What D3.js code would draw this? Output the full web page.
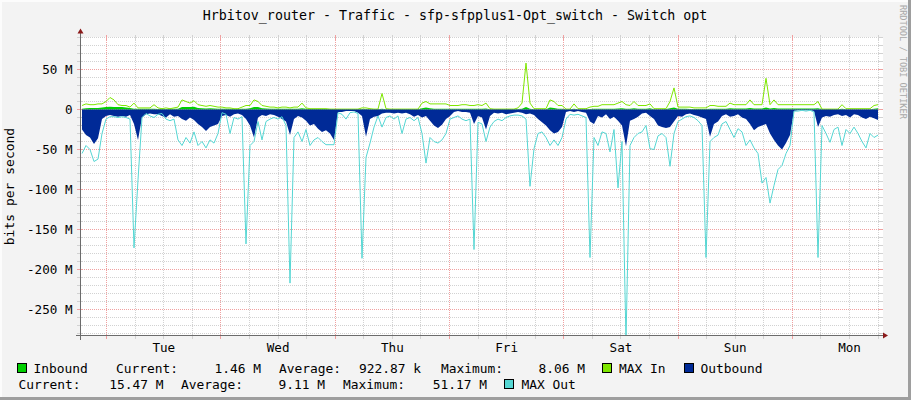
<!DOCTYPE html>
<html><head><meta charset="utf-8">
<script src="https://cdn.jsdelivr.net/npm/d3@7/dist/d3.min.js"></script>
<style>
body{margin:0;background:#f3f3f3;}
svg{display:block;}
text{font-family:"DejaVu Sans Mono",monospace;fill:#000;}
</style>
</head><body>
<svg id="c" width="911" height="400"></svg>
<script>
const title = "Hrbitov_router - Traffic - sfp-sfpplus1-Opt_switch - Switch opt";
const yAxisTitle = "bits per second";
const watermark = "RRDTOOL / TOBI OETIKER";
const dayLabels = ["Tue","Wed","Thu","Fri","Sat","Sun","Mon"];
const yTickValues = [50, 0, -50, -100, -150, -200, -250];
const yTickLabels = ["50 M","0","-50 M","-100 M","-150 M","-200 M","-250 M"];

// 200 samples over one week (M bits/s)
const inbound = [
 1,1.5,2,2,2,2.5,3,3.5,3,3,
 3,2.5,2,1,1,0.8,0.8,1,0.8,0.6,
 0.8,0.6,0.8,0.8,1,3,3,3,3.5,2,
 1.5,1.2,1.5,1.2,1,1,0.8,0.8,0.5,0.5,
 0.8,1,1.5,3,3,1.5,1.2,1,1,0.8,
 1,1,0.8,1,1,1.5,0.8,0.5,0.5,0.5,
 0.5,0.5,0.3,0.3,0.3,0.3,0.3,0.3,0.3,0.3,
 0.5,0.5,0.4,0.3,0.3,1,0.3,0.3,0.3,0.3,
 0.3,0.3,0.3,0.3,0.3,1.5,2.5,1.5,1,1,
 1,1,0.8,0.8,0.8,1,1,0.8,0.8,1,
 0.8,1.2,0.3,0.3,0.3,0.3,0.3,0.3,0.3,0.5,
 1,3,1,0.3,0.3,0.3,0.3,2.5,2,1,
 1,0.3,0.3,1,0.3,0.3,0.3,0.5,0.8,0.8,
 1,1,1,1,1.2,1.5,1,1,1.5,1,
 1,1,1.5,0.3,0.3,0.3,0.5,1.5,2.5,0.8,
 0.8,0.8,0.6,0.5,0.5,0.5,0.5,1,1,0.8,
 0.8,0.8,1.5,1.2,1.2,1.2,1.2,2,1.2,1.2,
 1.2,2.5,1.2,2,1.2,1.2,1.2,1.2,1.2,1.2,
 1.2,1.2,1.2,1.2,1.5,0.3,0.3,0.3,0.3,0.3,
 1,0.4,0.4,0.3,0.3,0.3,0.3,0.3,1,1.5];
const maxIn = [
 5,7,6,6,7,7,10,15,12,6,
 5,5,3,8,2,2,2,2,6,2,
 1,2,1,2,3,12,10,8,11,6,
 5,4,5,4,3,3,2,2,1,1,
 3,5,5,12,10,5,4,3,3,2,
 3,3,2,3,3,8,2,1,1,1,
 1,1,0.5,0.5,0.5,0.5,0.5,0.5,0.5,0.5,
 2,2,1,0.5,0.5,20,1,0.5,0.5,0.5,
 0.5,0.5,0.5,0.5,0.5,8,10,7,7,7,
 7,7,5,5,5,6,6,5,5,6,
 5,8,1,0.5,0.5,0.5,0.5,0.5,0.5,2,
 8,58,8,1,1,1,1,12,10,5,
 5,0.5,0.5,7,1,1,1,3,4,4,
 6,6,6,6,8,10,6,5,10,5,
 5,5,7,1,1,1,1,10,27,3,
 3,3,3,2,2,2,2,5,5,4,
 4,4,8,6,6,6,6,12,6,6,
 6,39,6,12,6,6,6,6,6,6,
 6,6,6,6,10,0.5,0.5,0.5,0.5,0.5,
 6,1,1,1,1,1,1,1,5,6];
const outbound = [
 25,32,35,43,36,12,8,7,8,9,
 8,9,7,18,38,10,6,5,6,6,
 8,10,6,9,8,12,14,10,13,18,
 22,27,22,20,18,8,7,9,6,5,
 7,12,20,35,10,7,8,6,7,9,
 12,15,32,12,8,10,14,20,18,24,
 28,26,30,38,3,3,2,2,2,4,
 8,34,12,9,8,5,4,4,5,4,
 5,4,6,9,7,10,8,14,20,23,
 19,12,8,3,2,3,3,4,18,8,
 10,25,8,4,5,4,6,5,4,3,
 4,6,5,7,12,16,20,26,30,28,
 22,3,2,3,2,3,4,15,18,8,
 10,6,12,9,14,20,46,14,12,9,
 5,4,8,12,20,22,23,22,15,8,
 9,6,5,7,8,10,12,34,18,15,
 8,6,9,8,6,10,12,18,26,22,
 20,18,30,38,45,50,42,32,2,1,
 1,1,1,2,22,10,8,9,7,6,
 8,7,10,6,7,10,12,9,11,13];
const maxOut = [
 55,45,50,65,62,30,12,9,9,10,
 9,10,12,173,88,10,5,8,10,6,
 5,12,14,12,38,45,35,42,28,45,
 40,48,38,42,30,4,6,30,10,12,
 9,168,45,40,15,38,15,12,10,12,
 9,20,217,35,28,40,25,45,38,35,
 40,44,44,44,4,6,12,4,3,5,
 186,60,42,22,8,22,10,8,12,8,
 30,12,10,14,10,30,67,35,40,42,
 38,30,12,10,8,12,14,12,175,16,
 18,40,22,15,12,14,10,8,7,7,
 8,12,96,49,30,28,35,45,38,45,
 35,12,6,7,6,8,10,185,35,45,
 28,30,53,25,98,40,290,45,35,30,
 28,20,49,50,33,30,35,71,30,15,
 12,9,8,10,14,20,185,40,35,32,
 18,15,25,35,24,28,45,38,48,55,
 92,85,117,95,75,70,55,45,2,2,
 1,2,1,3,185,20,30,41,25,22,
 45,25,30,22,30,40,48,30,35,32];

const legendNames = ["Inbound","MAX In","Outbound","MAX Out"];
const statLabels = ["Current:","Average:","Maximum:"];
const inboundStats = ["1.46 M","922.87 k","8.06 M"];
const outboundStats = ["15.47 M","9.11 M","51.17 M"];

const C = {inb:"#00cf00", maxIn:"#7ee600", outb:"#002a97", maxOut:"#55d6d3"};

const svg = d3.select("#c");
const W = 911, H = 400;
const X0 = 80, X1 = 880, Y0 = 335.5, Y1 = 37.5;

const start = Date.UTC(2024,0,1,18,24);
const end = start + 7*24*3600e3;
const step = (end-start)/maxOut.length;
const times = maxOut.map((_,i)=> new Date(start + (i+0.5)*step));

const x = d3.scaleUtc().domain([start,end]).range([X0,X1]);
const y = d3.scaleLinear().domain([-282.5,90]).range([Y0,Y1]);

// background & border
svg.append("rect").attr("width",W).attr("height",H).attr("fill","#f3f3f3");
svg.append("rect").attr("x",0).attr("y",0).attr("width",W).attr("height",2).attr("fill","#fcfcfc");
svg.append("rect").attr("x",0).attr("y",0).attr("width",2).attr("height",H).attr("fill","#fcfcfc");
svg.append("rect").attr("x",W-3).attr("y",0).attr("width",3).attr("height",H).attr("fill","#9e9e9e");
svg.append("rect").attr("x",0).attr("y",H-3).attr("width",W).attr("height",3).attr("fill","#9e9e9e");

svg.append("rect").attr("x",X0).attr("y",Y1-0.5).attr("width",X1-X0+3).attr("height",Y0-Y1+0.5).attr("fill","#fff");

const gGrid = svg.append("g").attr("shape-rendering","crispEdges");
const minorCol = "#d2d2d2", majorCol = "#f0a0a0";
// horizontal grid
d3.range(-280, 91, 10).forEach(v=>{
  const yy = Math.round(y(v)-0.5)+0.5;
  const major = v % 50 === 0;
  const col = major ? majorCol : minorCol;
  gGrid.append("line").attr("x1",X0).attr("x2",X1+3).attr("y1",yy).attr("y2",yy)
    .attr("stroke",col).attr("stroke-dasharray","1,1");
  gGrid.append("line").attr("x1",X0-3).attr("x2",X0+2).attr("y1",yy).attr("y2",yy).attr("stroke",col);
  gGrid.append("line").attr("x1",X1-1).attr("x2",X1+3).attr("y1",yy).attr("y2",yy).attr("stroke",col);
});
// vertical grid
x.ticks(d3.utcHour.every(6)).forEach(t=>{
  const xx = Math.round(x(t)-0.5)+0.5;
  const major = t.getUTCHours() === 0;
  const col = major ? majorCol : minorCol;
  gGrid.append("line").attr("x1",xx).attr("x2",xx).attr("y1",Y1).attr("y2",Y0)
    .attr("stroke",col).attr("stroke-dasharray","1,1");
  gGrid.append("line").attr("x1",xx).attr("x2",xx).attr("y1",Y0-2).attr("y2",Y0+3).attr("stroke",col);
  gGrid.append("line").attr("x1",xx).attr("x2",xx).attr("y1",Y1-3).attr("y2",Y1+2).attr("stroke",col);
});

// clip
svg.append("clipPath").attr("id","pc").append("rect")
  .attr("x",X0).attr("y",Y1-1).attr("width",X1-X0).attr("height",Y0-Y1+1);
const gData = svg.append("g").attr("clip-path","url(#pc)");

const areaPos = d3.area().x((d,i)=>x(times[i])).y0(y(0)).y1(d=>y(d));
const areaNeg = d3.area().x((d,i)=>x(times[i])).y0(y(0)).y1(d=>y(-d));
const linePos = d3.line().x((d,i)=>x(times[i])).y(d=>y(d));
const lineNeg = d3.line().x((d,i)=>x(times[i])).y(d=>y(-d));

gData.append("path").attr("d",areaPos(inbound)).attr("fill",C.inb);
gData.append("path").attr("d",linePos(maxIn)).attr("fill","none").attr("stroke",C.maxIn).attr("stroke-width",1);
gData.append("path").attr("d",areaNeg(outbound)).attr("fill",C.outb);
gData.append("path").attr("d",lineNeg(maxOut)).attr("fill","none").attr("stroke",C.maxOut).attr("stroke-width",1);

// axes
const axisCol = "#6b6b6b", arrowCol = "#8b1a1a";
svg.append("line").attr("x1",X0-4).attr("x2",X1+4).attr("y1",Y0).attr("y2",Y0)
  .attr("stroke",axisCol).attr("shape-rendering","crispEdges");
svg.append("line").attr("x1",X0+0.5).attr("x2",X0+0.5).attr("y1",Y0+4.5).attr("y2",Y1-5)
  .attr("stroke",axisCol).attr("shape-rendering","crispEdges");
svg.append("path").attr("d",`M${X1+3},${Y0-3} L${X1+8},${Y0} L${X1+3},${Y0+3} Z`).attr("fill",arrowCol);
svg.append("path").attr("d",`M${X0+0.5-3},${Y1-4} L${X0+0.5},${Y1-9} L${X0+0.5+3},${Y1-4} Z`).attr("fill",arrowCol);

// y tick labels
yTickValues.forEach((v,i)=>{
  svg.append("text").attr("x",72.5).attr("y",y(v)+4.5).attr("text-anchor","end")
    .attr("font-size","12.6px").text(yTickLabels[i]);
});
// x tick labels at noon of each day
dayLabels.forEach((d,i)=>{
  const t = new Date(Date.UTC(2024,0,2+i,12));
  svg.append("text").attr("x",x(t)).attr("y",351.5).attr("text-anchor","middle")
    .attr("font-size","12.6px").text(d);
});

// titles
svg.append("text").attr("x",455).attr("y",20).attr("text-anchor","middle")
  .attr("font-size","13.3px").text(title);
svg.append("text").attr("transform",`translate(14,${(Y0+Y1)/2}) rotate(-90)`).attr("text-anchor","middle")
  .attr("font-size","13px").text(yAxisTitle);
svg.append("text").attr("transform","translate(900,5) rotate(90)")
  .attr("font-size","8.6px").style("fill","#a8a8a8").text(watermark);

// legend
const fs = "12.9px";
function box(xx,yy,col){
  svg.append("rect").attr("x",xx+0.5).attr("y",yy+0.5).attr("width",9).attr("height",9)
    .attr("fill",col).attr("stroke","#000").attr("stroke-width",1);
}
function txt(xx,yy,s,anchor){
  svg.append("text").attr("x",xx).attr("y",yy).attr("font-size",fs)
    .attr("text-anchor",anchor||"start").text(s);
}
const r1 = 373, r2 = 389;
box(17,363,C.inb); txt(33.5,r1,legendNames[0]);
txt(116,r1,statLabels[0]); txt(261,r1,inboundStats[0],"end");
txt(279,r1,statLabels[1]); txt(421,r1,inboundStats[1],"end");
txt(441,r1,statLabels[2]); txt(585,r1,inboundStats[2],"end");
box(602,363,C.maxIn); txt(619,r1,legendNames[1]);
box(684,363,C.outb); txt(700.5,r1,legendNames[2]);
txt(18.5,r2,statLabels[0]); txt(163.5,r2,outboundStats[0],"end");
txt(181,r2,statLabels[1]); txt(325,r2,outboundStats[1],"end");
txt(343,r2,statLabels[2]); txt(487,r2,outboundStats[2],"end");
box(504,379,C.maxOut); txt(521.5,r2,legendNames[3]);
</script>
</body></html>
